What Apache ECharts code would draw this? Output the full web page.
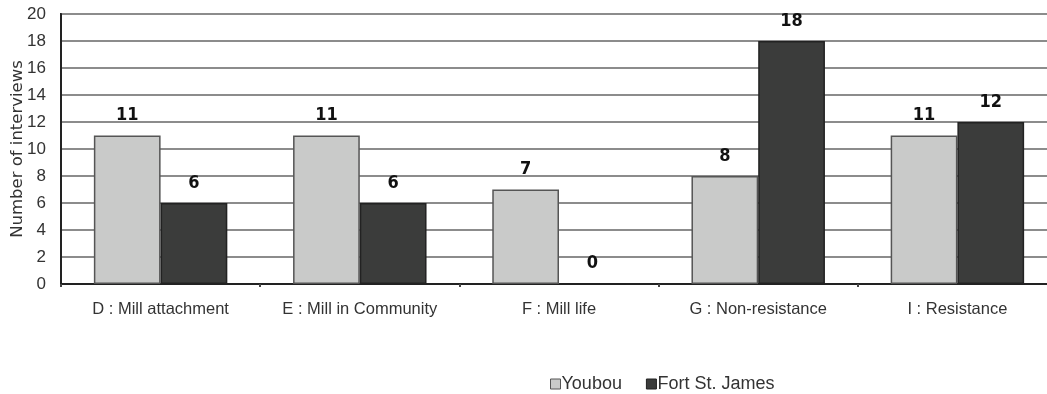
<!DOCTYPE html>
<html><head><meta charset="utf-8">
<script src="https://cdn.jsdelivr.net/npm/echarts@6/dist/echarts.min.js"></script>
<style>html,body{margin:0;padding:0;background:#fff}#c{width:1047px;height:394px}</style>
</head><body><div id="c"></div>
<script>
const categories = ["D : Mill attachment", "E : Mill in Community", "F : Mill life", "G : Non-resistance", "I : Resistance"];
const youbou = [11, 11, 7, 8, 11];
const fortStJames = [6, 6, 0, 18, 12];
const yTicks = [0, 2, 4, 6, 8, 10, 12, 14, 16, 18, 20];

const chart = echarts.init(document.getElementById('c'));
const font = '"Liberation Sans", Arial, sans-serif';
const lblFont = '"DejaVu Sans Condensed", "DejaVu Sans", sans-serif';
chart.setOption({
  animation: false,
  grid: { left: 61, top: 14, width: 996, height: 270, containLabel: false, outerBoundsMode: 'none', show: true, borderColor: '#333', borderWidth: 2, backgroundColor: 'transparent' },
  legend: {
    left: 545, top: 370, itemWidth: 10, itemHeight: 10, itemGap: 24,
    textStyle: { fontFamily: font, fontSize: 18, color: '#333', padding: [0, 0, 0, -4] },
    data: [
      { name: 'Youbou', icon: 'rect', itemStyle: { borderColor: '#555', borderWidth: 1 } },
      { name: 'Fort St. James', icon: 'rect', itemStyle: { borderColor: '#222', borderWidth: 1 } }
    ]
  },
  xAxis: {
    type: 'category', data: categories,
    axisLine: { lineStyle: { color: '#222', width: 2 } },
    axisTick: { show: true, inside: false, length: 3, lineStyle: { color: '#444', width: 2 } },
    axisLabel: { interval: 0, hideOverlap: false, fontFamily: font, fontSize: 16.5, color: '#333', margin: 17 }
  },
  yAxis: {
    type: 'value', min: yTicks[0], max: yTicks[yTicks.length - 1], interval: 2,
    name: 'Number of interviews', nameLocation: 'middle', nameGap: 35, nameMoveOverlap: false,
    nameTextStyle: { fontFamily: '"DejaVu Sans", sans-serif', fontSize: 16.5, color: '#333', padding: [0, 0, 0, 0] },
    axisLine: { show: true, lineStyle: { color: '#222', width: 2 } },
    axisTick: { show: false },
    splitLine: { lineStyle: { color: '#8c8c8c', width: 2 } },
    axisLabel: { fontFamily: font, fontSize: 17, color: '#333', margin: 15 }
  },
  series: [
    { name: 'Youbou', type: 'bar', data: youbou, barGap: '0%', barCategoryGap: '33%',
      itemStyle: { color: '#c9cac9', borderColor: '#555', borderWidth: 1.5 },
      label: { show: true, position: 'top', distance: 11, fontFamily: lblFont, fontWeight: 'bold', fontSize: 18, color: '#111' } },
    { name: 'Fort St. James', type: 'bar', data: fortStJames,
      itemStyle: { color: '#3b3c3b', borderColor: '#222', borderWidth: 1.5 },
      label: { show: true, position: 'top', distance: 11, fontFamily: lblFont, fontWeight: 'bold', fontSize: 18, color: '#111' } }
  ]
});
</script></body></html>
